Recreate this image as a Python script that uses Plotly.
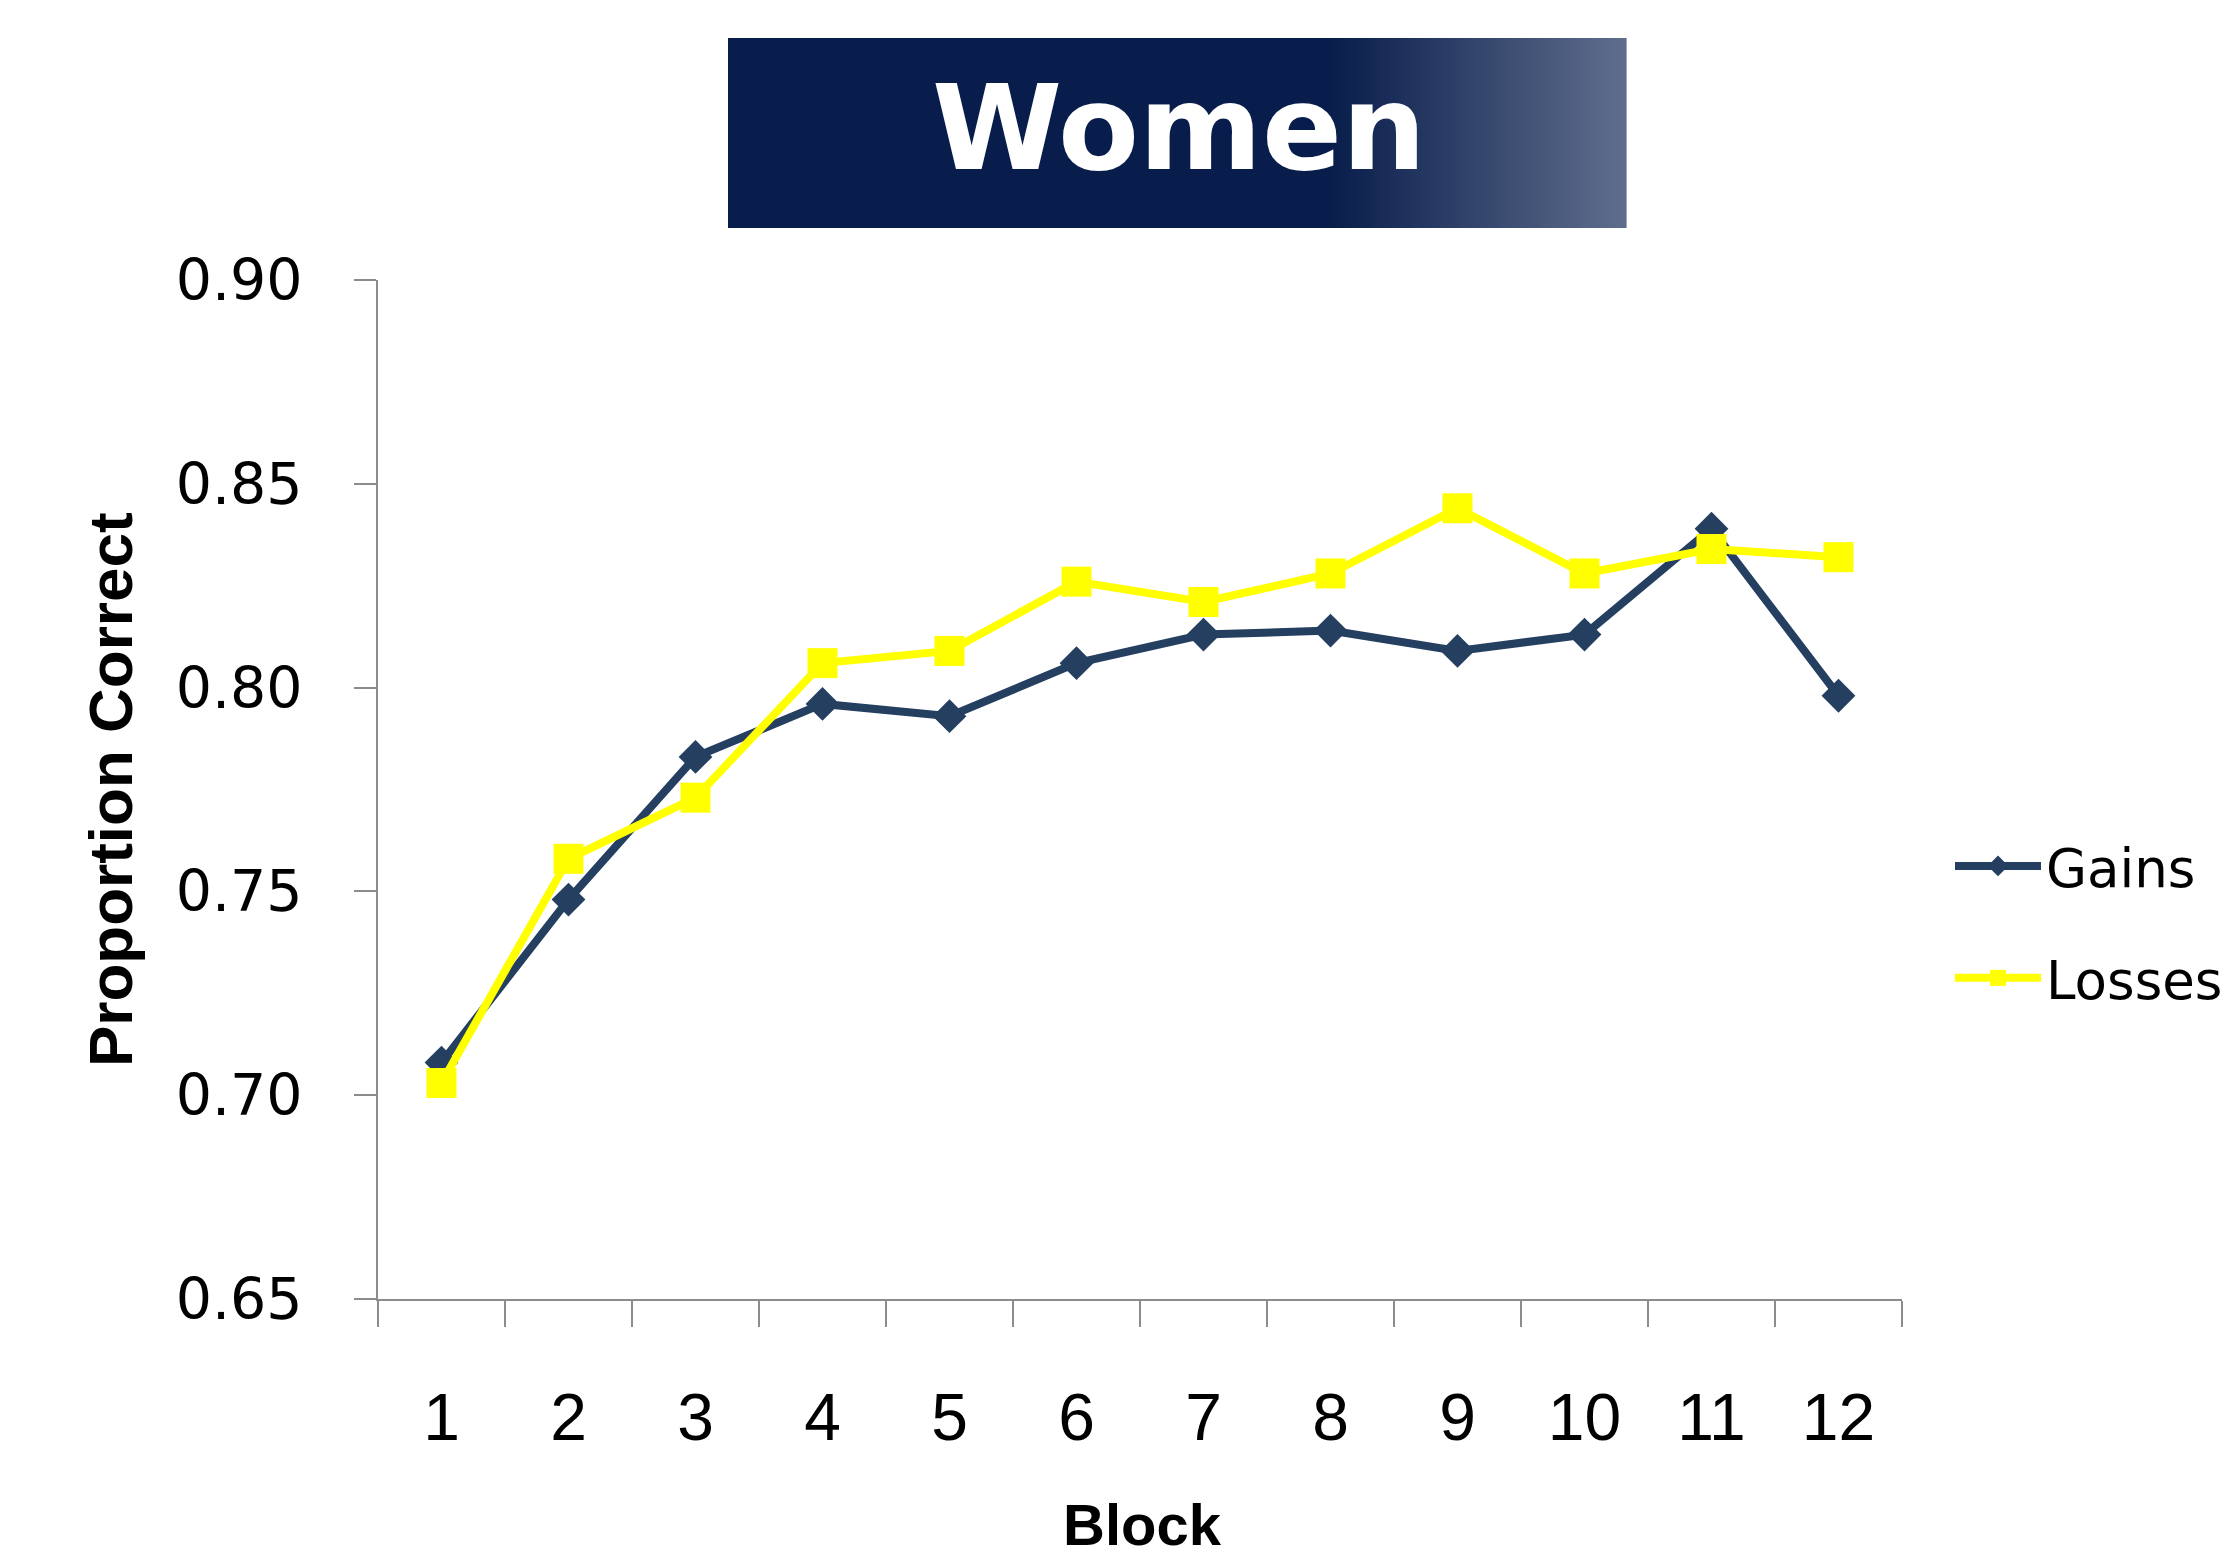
import plotly.graph_objects as go

# ---- data ----
blocks = [1, 2, 3, 4, 5, 6, 7, 8, 9, 10, 11, 12]
block_labels = [str(b) for b in blocks]
gains = [0.708, 0.748, 0.783, 0.796, 0.793, 0.806, 0.813, 0.814, 0.809, 0.813, 0.839, 0.798]
losses = [0.703, 0.758, 0.773, 0.806, 0.809, 0.826, 0.821, 0.828, 0.844, 0.828, 0.834, 0.832]
y_ticks = [0.65, 0.70, 0.75, 0.80, 0.85, 0.90]

W, H = 2231, 1562
L, R, T, B = 378, 2231 - 1902, 280, 1562 - 1299
PW, PH = W - L - R, H - T - B


def px2x(px):
    return (px - L) / PW


def px2y(py):
    return (H - B - py) / PH


gains_color = "#243F60"
loss_color = "#FFFF00"
axis_color = "#8C8C8C"

fig = go.Figure()
fig.add_trace(go.Scatter(
    x=blocks, y=gains, name="Gains", mode="lines+markers",
    line=dict(color=gains_color, width=8),
    marker=dict(symbol="diamond", size=26, color=gains_color),
    legendgroup="g",
))
fig.add_trace(go.Scatter(
    x=blocks, y=losses, name="Losses", mode="lines+markers",
    line=dict(color=loss_color, width=8),
    marker=dict(symbol="square", size=30, color=loss_color),
    legendgroup="l",
))

boundaries = [b - 0.5 for b in blocks] + [blocks[-1] + 0.5]
xr = [boundaries[0], boundaries[-1]]

fig.update_layout(
    width=W, height=H,
    margin=dict(l=L, r=R, t=T, b=B, autoexpand=False),
    paper_bgcolor="white", plot_bgcolor="white",
    showlegend=True,
    legend=dict(
        x=px2x(1950), xanchor="left", y=px2y(922), yanchor="middle",
        font=dict(family="DejaVu Sans", size=53, color="black"),
        bgcolor="rgba(0,0,0,0)", tracegroupgap=40, itemwidth=86,
    ),
    xaxis=dict(
        range=xr, tickvals=blocks, ticktext=block_labels,
        ticks="", showgrid=False, zeroline=False,
        showline=True, linecolor=axis_color, linewidth=2,
        tickfont=dict(family="Liberation Sans Narrow, Liberation Sans", size=66, color="black"),
        ticklabelstandoff=60,
        minor=dict(tickvals=boundaries, ticks="outside", ticklen=26, tickwidth=2, tickcolor=axis_color, showgrid=False),
    ),
    xaxis2=dict(
        range=xr, overlaying="x", anchor="y", side="bottom",
        tickvals=boundaries, ticks="inside", ticklen=26, tickwidth=2, tickcolor=axis_color,
        showticklabels=False, showgrid=False, zeroline=False, showline=False,
    ),
    yaxis=dict(
        range=[y_ticks[0], y_ticks[-1]], tickvals=y_ticks, tickformat=".2f",
        ticks="outside", ticklen=22, tickwidth=2, tickcolor=axis_color,
        showline=True, linecolor=axis_color, linewidth=2,
        showgrid=False, zeroline=False,
        tickfont=dict(family="DejaVu Sans", size=57, color="black"),
        ticklabelstandoff=40,
    ),
)

# title box with gradient on the right
box_x0, box_x1, box_y0, box_y1 = 728, 1626, 38, 228
grad_start = 1330
c0 = (8, 29, 75)
c1 = (96, 110, 141)
shapes = [dict(type="rect", xref="paper", yref="paper",
               x0=px2x(box_x0), x1=px2x(grad_start), y0=px2y(box_y1), y1=px2y(box_y0),
               fillcolor="rgb(%d,%d,%d)" % c0, line=dict(width=0), layer="below")]
nstrips = 74
step = (box_x1 - grad_start) / nstrips
for i in range(nstrips):
    t = (i + 0.5) / nstrips
    col = tuple(round(c0[k] + (c1[k] - c0[k]) * t) for k in range(3))
    shapes.append(dict(type="rect", xref="paper", yref="paper",
                       x0=px2x(grad_start + i * step), x1=px2x(grad_start + (i + 1) * step + 0.6),
                       y0=px2y(box_y1), y1=px2y(box_y0),
                       fillcolor="rgb(%d,%d,%d)" % col, line=dict(width=0), layer="below"))
fig.update_layout(shapes=shapes)

fig.add_annotation(text="<b>Women</b>", xref="paper", yref="paper",
                   x=px2x(1179), y=px2y(128), xanchor="center", yanchor="middle",
                   showarrow=False, font=dict(family="DejaVu Sans", size=118, color="white"))
fig.add_annotation(text="<b>Proportion Correct</b>", xref="paper", yref="paper",
                   x=px2x(110), y=px2y(790), xanchor="center", yanchor="middle", textangle=-90,
                   showarrow=False, font=dict(family="Liberation Sans", size=62, color="black"))
fig.add_annotation(text="<b>Block</b>", xref="paper", yref="paper",
                   x=px2x(1142), y=px2y(1524), xanchor="center", yanchor="middle",
                   showarrow=False, font=dict(family="Liberation Sans", size=58, color="black"))

fig.write_html("out.html")
